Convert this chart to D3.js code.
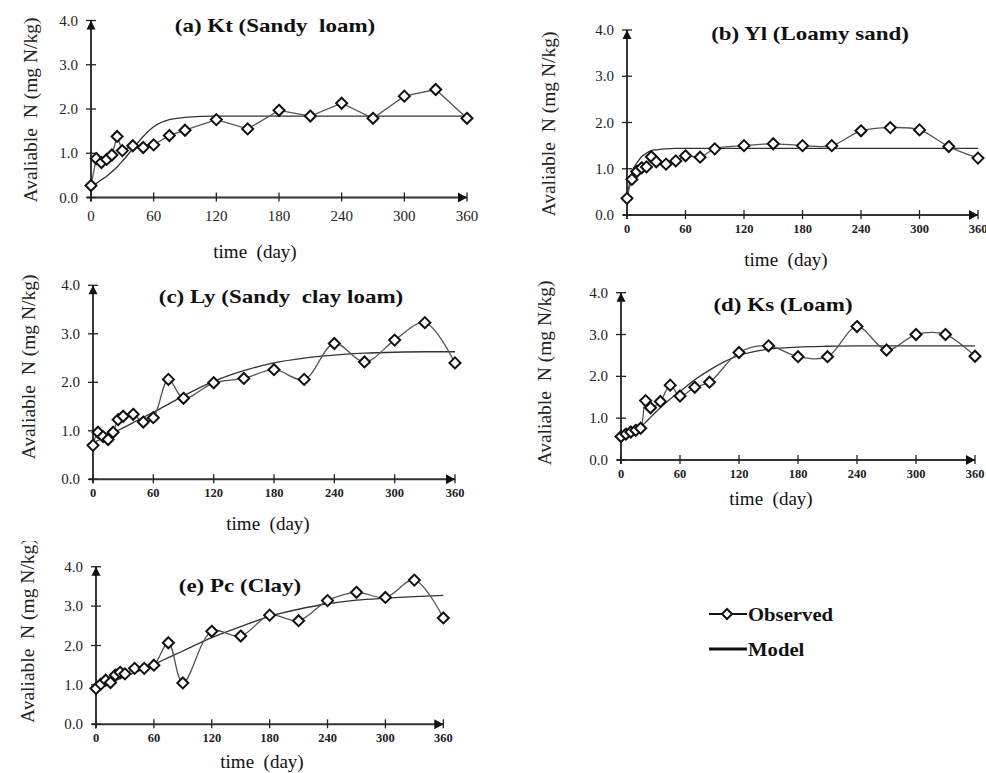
<!DOCTYPE html>
<html>
<head>
<meta charset="utf-8">
<script src="https://cdn.jsdelivr.net/npm/d3@7"></script>
<style>
body { margin: 0; background: #fff; }
svg text { white-space: pre; }
</style>
</head>
<body>
<svg id="chart" width="986" height="773" font-family="'Liberation Serif', 'DejaVu Serif', serif"></svg>
<script>
// sampling days (same for observed and model)
var days = [0, 5, 10, 15, 20, 25, 30, 40, 50, 60, 75, 90, 120, 150, 180, 210, 240, 270, 300, 330, 360];

var obsKt = [0.27, 0.88, 0.79, 0.86, 0.96, 1.38, 1.06, 1.17, 1.13, 1.19, 1.40, 1.52, 1.76, 1.55, 1.97, 1.84, 2.13, 1.79, 2.29, 2.44, 1.79];
var modKt = [0.27, 0.32, 0.40, 0.48, 0.58, 0.69, 0.82, 1.10, 1.38, 1.60, 1.76, 1.81, 1.84, 1.84, 1.84, 1.84, 1.84, 1.84, 1.84, 1.84, 1.84];

var obsYl = [0.36, 0.77, 0.94, 1.02, 1.04, 1.26, 1.15, 1.10, 1.17, 1.28, 1.25, 1.43, 1.50, 1.54, 1.50, 1.50, 1.82, 1.89, 1.84, 1.48, 1.23];
var modYl = [0.36, 0.92, 1.12, 1.26, 1.34, 1.39, 1.41, 1.43, 1.44, 1.44, 1.44, 1.44, 1.44, 1.44, 1.44, 1.44, 1.44, 1.44, 1.44, 1.44, 1.44];

var obsLy = [0.70, 0.97, 0.88, 0.82, 0.97, 1.23, 1.30, 1.34, 1.18, 1.27, 2.06, 1.67, 1.99, 2.08, 2.26, 2.06, 2.80, 2.42, 2.87, 3.23, 2.40];
var modLy = [0.75, 0.80, 0.85, 0.90, 0.96, 1.01, 1.06, 1.17, 1.28, 1.38, 1.55, 1.72, 2.02, 2.24, 2.40, 2.50, 2.56, 2.60, 2.62, 2.63, 2.63];

var obsKs = [0.56, 0.62, 0.67, 0.71, 0.76, 1.42, 1.25, 1.40, 1.79, 1.53, 1.74, 1.86, 2.57, 2.73, 2.47, 2.47, 3.19, 2.63, 3.00, 3.00, 2.48];
var modKs = [0.58, 0.62, 0.67, 0.73, 0.80, 0.90, 1.02, 1.25, 1.46, 1.64, 1.92, 2.15, 2.50, 2.65, 2.70, 2.72, 2.73, 2.73, 2.73, 2.73, 2.73];

var obsPc = [0.91, 1.02, 1.12, 1.06, 1.25, 1.32, 1.28, 1.42, 1.42, 1.50, 2.07, 1.05, 2.36, 2.24, 2.77, 2.63, 3.14, 3.35, 3.22, 3.66, 2.70];
var modPc = [0.91, 0.96, 1.01, 1.06, 1.11, 1.16, 1.21, 1.31, 1.41, 1.52, 1.69, 1.86, 2.20, 2.48, 2.74, 2.92, 3.06, 3.15, 3.20, 3.24, 3.27];

var xTicks = [0, 60, 120, 180, 240, 300, 360];
var yTicks = [0, 1, 2, 3, 4];

var titles = ["(a) Kt (Sandy  loam)", "(b) Yl (Loamy sand)", "(c) Ly (Sandy  clay loam)", "(d) Ks (Loam)", "(e) Pc (Clay)"];
var yLabel = "Avaliable  N (mg N/kg)";
var xLabel = "time  (day)";

// where each panel sits on the page
var layout = [
    {obs: obsKt, mod: modKt, x0: 91, x1: 467, y0: 197.5, y1: 20.5, tx: 275, ty: 32, lx: 30, ly: 110, xlx: 255, xly: 258, boldX: false, obsCurve: d3.curveLinear},
    {obs: obsYl, mod: modYl, x0: 627, x1: 978, y0: 215, y1: 30, tx: 810, ty: 40, lx: 548, ly: 124, xlx: 786, xly: 266, boldX: true},
    {obs: obsLy, mod: modLy, x0: 93, x1: 455, y0: 479.3, y1: 285.3, tx: 281, ty: 303, lx: 28, ly: 367, xlx: 268, xly: 530, boldX: true},
    {obs: obsKs, mod: modKs, x0: 621, x1: 975, y0: 460, y1: 292.7, tx: 783, ty: 311, lx: 544, ly: 373, xlx: 771, xly: 505, boldX: true},
    {obs: obsPc, mod: modPc, x0: 96, x1: 443.3, y0: 724.3, y1: 566.7, tx: 240, ty: 592, lx: 27, ly: 630, xlx: 262, xly: 768, boldX: true, clipTop: 541}
];

var svg = d3.select("#chart");
svg.append("rect").attr("width", 986).attr("height", 773).attr("fill", "#fff");

var defs = svg.append("defs");
defs.append("clipPath").attr("id", "clip-e")
    .append("rect").attr("x", 0).attr("y", 541).attr("width", 200).attr("height", 232);

function diamond(g, x, y, r) {
    g.append("path")
        .attr("d", "M" + x + "," + (y - r) + "L" + (x + r) + "," + y + "L" + x + "," + (y + r) + "L" + (x - r) + "," + y + "Z")
        .attr("fill", "#fff")
        .attr("stroke", "#111")
        .attr("stroke-width", 2);
}

function drawPanel(p, i) {
    var g = svg.append("g");
    var x = d3.scaleLinear().domain([0, 360]).range([p.x0, p.x1]);
    var y = d3.scaleLinear().domain([0, 4]).range([p.y0, p.y1]);

    // model curve
    var modLine = d3.line()
        .x(function (d, j) { return x(days[j]); })
        .y(function (d) { return y(d); })
        .curve(d3.curveMonotoneX);
    g.append("path")
        .attr("d", modLine(p.mod))
        .attr("fill", "none")
        .attr("stroke", "#333")
        .attr("stroke-width", 1.3);

    // observed curve
    var obsLine = d3.line()
        .x(function (d, j) { return x(days[j]); })
        .y(function (d) { return y(d); })
        .curve(p.obsCurve || d3.curveCatmullRom.alpha(0.5));
    g.append("path")
        .attr("d", obsLine(p.obs))
        .attr("fill", "none")
        .attr("stroke", "#555")
        .attr("stroke-width", 1.3);

    // axes
    g.append("line")
        .attr("x1", p.x0).attr("x2", p.x0)
        .attr("y1", p.y0 + 4).attr("y2", p.y1)
        .attr("stroke", "#222").attr("stroke-width", 1.8);
    g.append("line")
        .attr("x1", p.x0 - 4).attr("x2", p.x1)
        .attr("y1", p.y0).attr("y2", p.y0)
        .attr("stroke", "#333").attr("stroke-width", 2);

    g.selectAll(null).data(yTicks).enter().append("line")
        .attr("x1", p.x0 - 5).attr("x2", p.x0 + 5)
        .attr("y1", function (d) { return y(d); })
        .attr("y2", function (d) { return y(d); })
        .attr("stroke", "#222").attr("stroke-width", 1.3);
    g.selectAll(null).data(xTicks).enter().append("line")
        .attr("x1", function (d) { return x(d); })
        .attr("x2", function (d) { return x(d); })
        .attr("y1", p.y0 - 5).attr("y2", p.y0 + 4)
        .attr("stroke", "#222").attr("stroke-width", 1.3);

    // arrow heads
    g.append("path")
        .attr("d", "M" + p.x0 + "," + p.y1 + "L" + (p.x0 + 4.5) + "," + (p.y1 + 9) + "L" + (p.x0 - 4.5) + "," + (p.y1 + 9) + "Z")
        .attr("fill", "#111");
    g.append("path")
        .attr("d", "M" + p.x1 + "," + p.y0 + "L" + (p.x1 - 9) + "," + (p.y0 - 5) + "L" + (p.x1 - 9) + "," + (p.y0 + 5) + "Z")
        .attr("fill", "#111");

    // tick labels
    g.selectAll(null).data(yTicks).enter().append("text")
        .attr("x", p.x0 - 13)
        .attr("y", function (d) { return y(d) + 5; })
        .attr("text-anchor", "end")
        .attr("font-size", 15)
        .attr("fill", "#222")
        .text(function (d) { return d3.format(".1f")(d); });
    g.selectAll(null).data(xTicks).enter().append("text")
        .attr("x", function (d) { return x(d); })
        .attr("y", p.y0 + (p.boldX ? 18 : 23))
        .attr("text-anchor", "middle")
        .attr("font-size", p.boldX ? 12.5 : 15)
        .attr("font-weight", p.boldX ? "bold" : "normal")
        .attr("fill", "#222")
        .text(function (d) { return d; });

    // markers
    p.obs.forEach(function (v, j) {
        diamond(g, x(days[j]), y(v), 5.5);
    });

    // title, a little stretched sideways like the source figure
    g.append("text")
        .attr("transform", "translate(" + p.tx + "," + p.ty + ") scale(1.21,1)")
        .attr("text-anchor", "middle")
        .attr("font-size", 19)
        .attr("font-weight", "bold")
        .attr("fill", "#111")
        .text(titles[i]);

    var holder = p.clipTop ? g.append("g").attr("clip-path", "url(#clip-e)") : g;
    holder.append("text")
        .attr("transform", p.clipTop
            ? "translate(" + (p.lx + 7) + ",723) rotate(-90)"
            : "translate(" + (p.lx + 7) + "," + p.ly + ") rotate(-90)")
        .attr("text-anchor", p.clipTop ? "start" : "middle")
        .attr("font-size", 19.5)
        .attr("fill", "#222")
        .text(yLabel);

    g.append("text")
        .attr("x", p.xlx).attr("y", p.xly)
        .attr("text-anchor", "middle")
        .attr("font-size", 19)
        .attr("fill", "#111")
        .text(xLabel);
}

layout.forEach(drawPanel);

// legend
var leg = svg.append("g");
leg.append("line").attr("x1", 709).attr("x2", 747).attr("y1", 614).attr("y2", 614)
    .attr("stroke", "#111").attr("stroke-width", 2);
leg.append("path").attr("d", "M727,609L732,614L727,619L722,614Z")
    .attr("fill", "#fff").attr("stroke", "#111").attr("stroke-width", 2);
leg.append("text").attr("transform", "translate(748,621) scale(1.09,1)")
    .attr("font-size", 19).attr("font-weight", "bold").attr("fill", "#111").text("Observed");
leg.append("line").attr("x1", 709).attr("x2", 747).attr("y1", 649).attr("y2", 649)
    .attr("stroke", "#111").attr("stroke-width", 3);
leg.append("text").attr("transform", "translate(748,656) scale(1.09,1)")
    .attr("font-size", 19).attr("font-weight", "bold").attr("fill", "#111").text("Model");
</script>
</body>
</html>
